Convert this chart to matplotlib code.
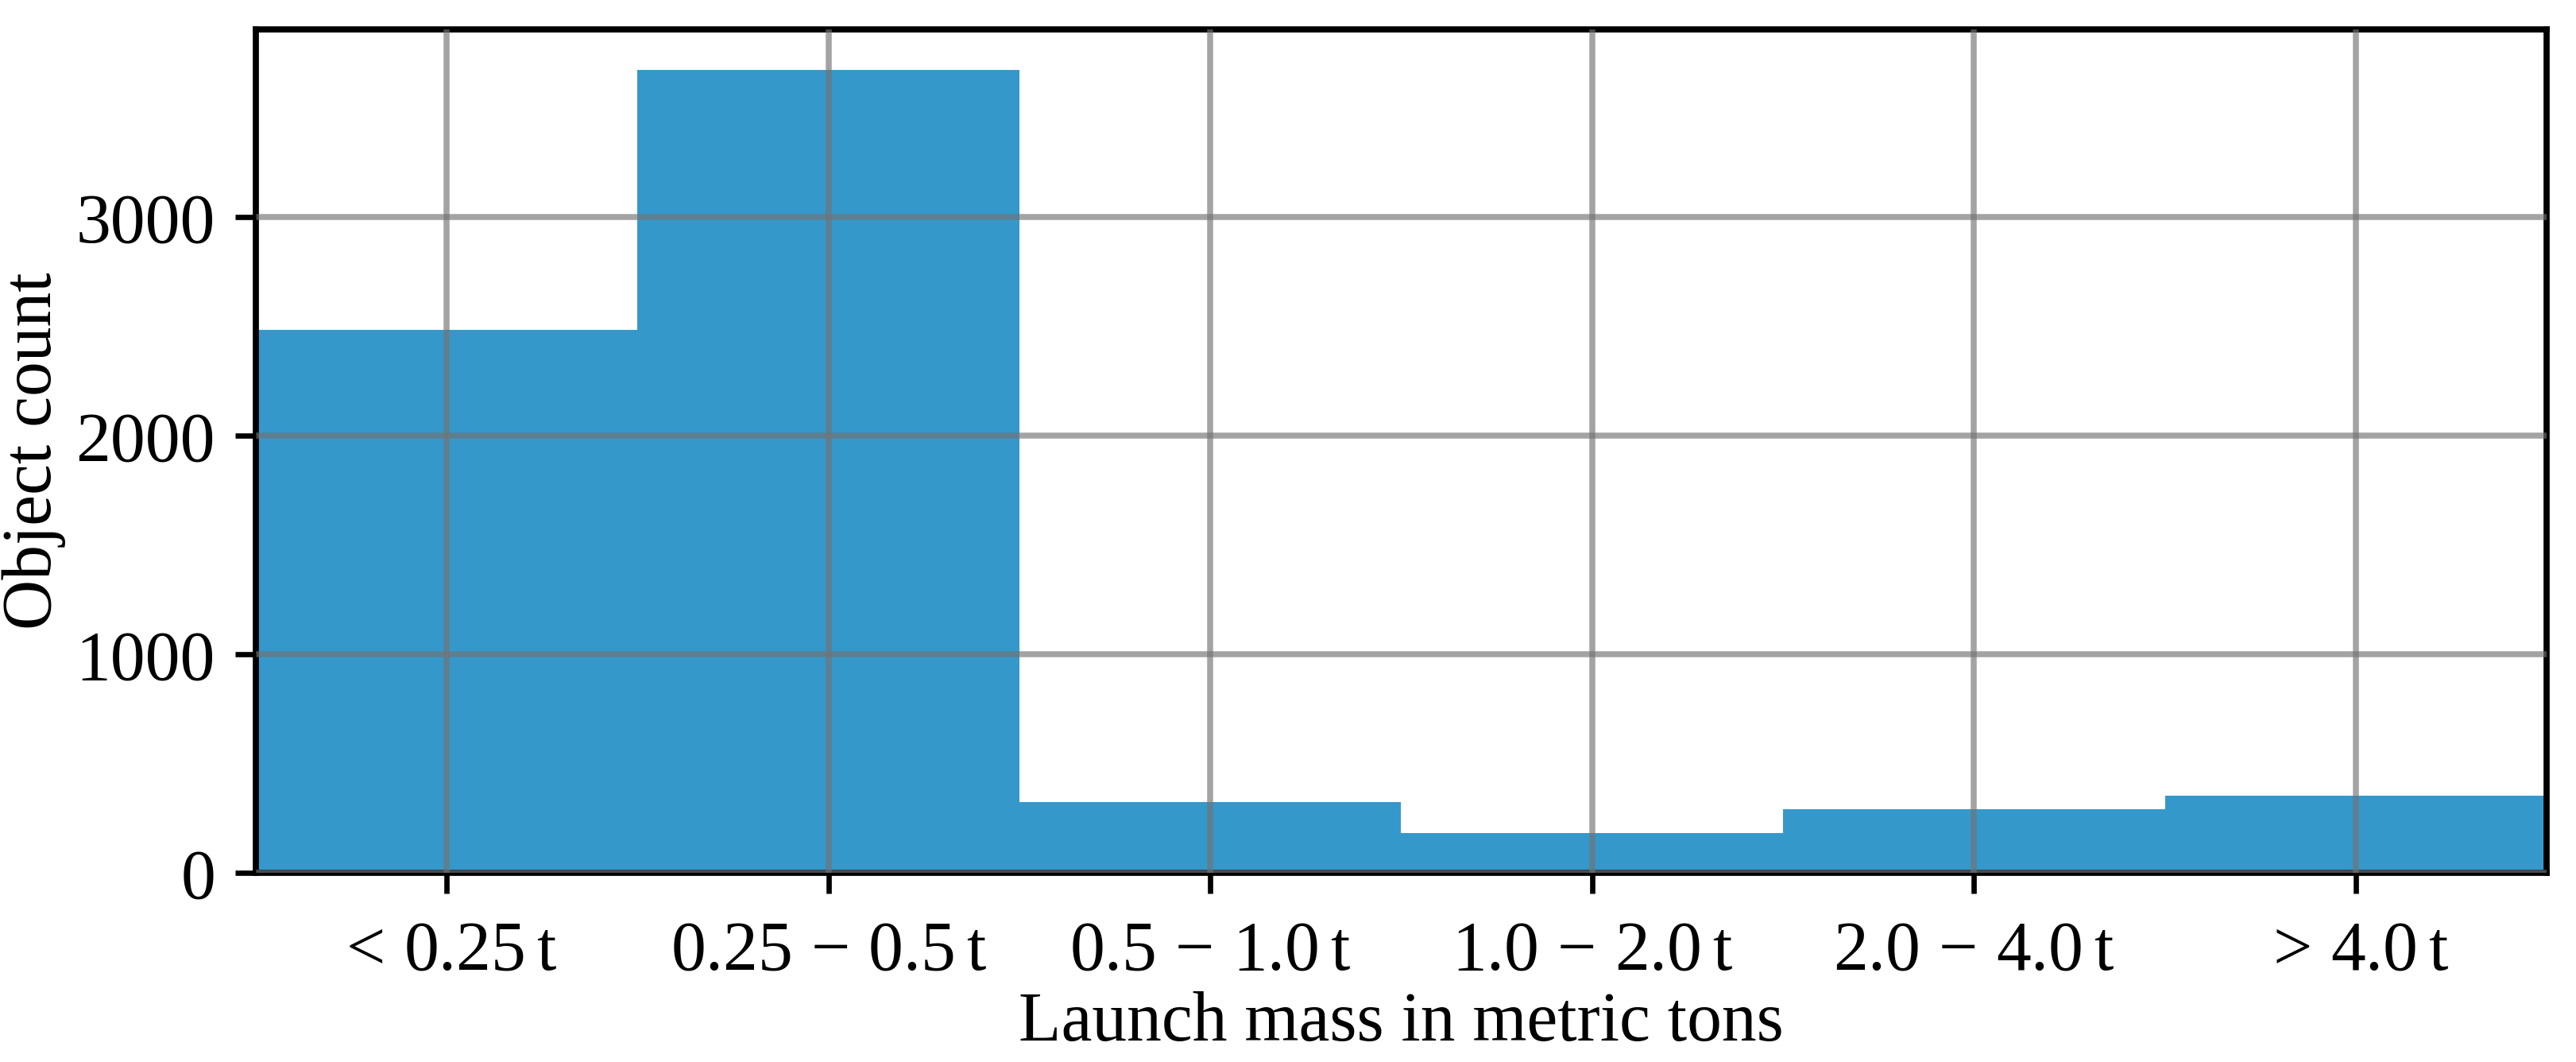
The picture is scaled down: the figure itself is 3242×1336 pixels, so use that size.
import matplotlib
matplotlib.use("Agg")
import matplotlib.pyplot as plt

# launch mass classes and object counts
mass_labels = [r"$<\,0.25\:\mathrm{t}$", r"$0.25\,-\,0.5\:\mathrm{t}$", r"$0.5\,-\,1.0\:\mathrm{t}$",
               r"$1.0\,-\,2.0\:\mathrm{t}$", r"$2.0\,-\,4.0\:\mathrm{t}$", r"$>\,4.0\:\mathrm{t}$"]
object_counts = [2485, 3676, 325, 182, 291, 353]
y_ticks = [0, 1000, 2000, 3000]

plt.rcParams["font.family"] = ["Liberation Serif", "DejaVu Serif"]
plt.rcParams["mathtext.fontset"] = "custom"
plt.rcParams["mathtext.rm"] = "Liberation Serif"
plt.rcParams["mathtext.it"] = "Liberation Serif:italic"

fig, ax = plt.subplots(figsize=(3242 / 300, 1336 / 300), dpi=300)
fig.subplots_adjust(left=0.0993, right=0.9886, top=0.9723, bottom=0.178)

x = range(len(object_counts))
ax.bar(x, object_counts, width=1.0, color="#3598cb", zorder=1)

ax.set_xlim(-0.5, len(object_counts) - 0.5)
ax.set_ylim(0, max(object_counts) * 1.05)
ax.set_xticks(list(x))
ax.set_xticklabels(mass_labels, fontsize=21)
ax.set_yticks(y_ticks)
ax.tick_params(axis="y", labelsize=21, length=6.2, width=1.6, pad=6)
ax.tick_params(axis="x", length=6.2, width=1.6, pad=8)

ax.grid(True, color="0.45", alpha=0.66, linewidth=1.8, zorder=2)
ax.set_axisbelow(False)
for s in ax.spines.values():
    s.set_linewidth(1.85)

ax.set_xlabel("Launch mass in metric tons", fontsize=21, labelpad=2)
ax.set_ylabel("Object count", fontsize=21, labelpad=3)

plt.savefig("out.png", dpi=300)
